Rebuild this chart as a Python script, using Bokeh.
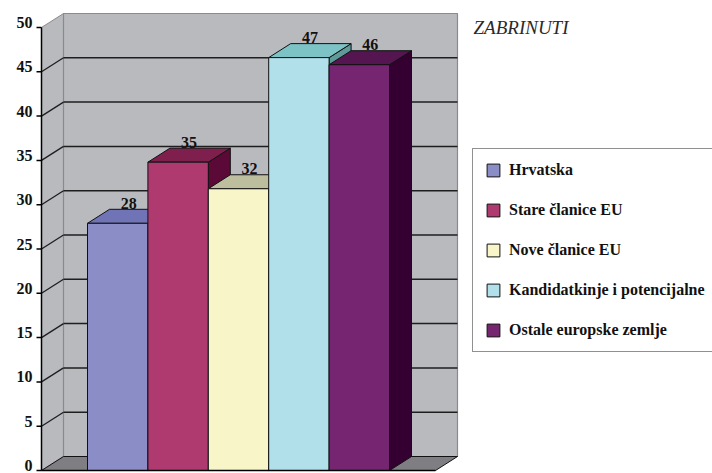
from bokeh.plotting import figure
from bokeh.models import Range1d, Legend, LegendItem, Label, ColumnDataSource
from bokeh.embed import file_html
from bokeh.resources import INLINE
from bokeh.core.properties import value

# ---------------- data ----------------
categories = ["Hrvatska", "Stare članice EU", "Nove članice EU",
              "Kandidatkinje i potencijalne", "Ostale europske zemlje"]
values = [27.9, 34.8, 31.8, 46.6, 45.8]
value_labels = ["28", "35", "32", "47", "46"]
y_ticks = [0, 5, 10, 15, 20, 25, 30, 35, 40, 45, 50]
y_tick_labels = ["0", "5", "10", "15", "20", "25", "30", "35", "40", "45", "50"]
title_text = "ZABRINUTI"

# ---------------- styles ----------------
front_colors = ["#8B8EC6", "#AE3A70", "#F8F5C8", "#B1E0EB", "#762570"]
top_colors = ["#7073B5", "#7E1F4E", "#BCBE9E", "#7DC3C6", "#551550"]
side_colors = ["#4E508A", "#5B0A37", "#8E8F6E", "#5F9A99", "#330031"]
WALL = "#B9BABE"
FLOOR = "#7F7F83"
EDGE = "#111111"

# ---------------- layout constants ----------------
W_PX, H_PX = 712, 473
AXIS_PX = 41         # canvas x of the value axis
PX_X = 60.4          # px per bar unit
ZERO_PX = 470        # canvas y of value 0
PX_Y = (ZERO_PX - 27) / 50.0   # px per value unit
DX = 22 / PX_X       # depth offset (x units)
DY = 14 / PX_Y       # depth offset (value units)
X0 = 46 / PX_X       # first bar left edge
FLOOR_W = 394 / PX_X
TICK = 5 / PX_X
TOP = y_ticks[-1]

p = figure(width=W_PX, height=H_PX, output_backend="svg", toolbar_location=None,
           x_axis_location=None, y_axis_location=None,
           x_range=Range1d(-AXIS_PX / PX_X, (W_PX - AXIS_PX) / PX_X),
           y_range=Range1d(-(H_PX - ZERO_PX) / PX_Y, ZERO_PX / PX_Y),
           min_border_left=0, min_border_right=0, min_border_top=0, min_border_bottom=0)
p.outline_line_color = None
p.xgrid.visible = False
p.ygrid.visible = False
p.background_fill_color = "white"
p.border_fill_color = "white"

# walls and floor
p.patch([0, 0, DX, DX], [0, TOP, TOP + DY, DY], fill_color=WALL, line_color="#8A8A8A", line_width=1)
p.patch([DX, DX, FLOOR_W + DX, FLOOR_W + DX], [DY, TOP + DY, TOP + DY, DY],
        fill_color=WALL, line_color="#8A8A8A", line_width=1.2)
p.patch([0, FLOOR_W, FLOOR_W + DX, DX], [0, 0, DY, DY], fill_color=FLOOR, line_color=EDGE, line_width=1)

# gridlines on back wall and side wall
gv = [t for t in y_ticks if 0 < t < TOP]
p.segment(x0=[DX] * len(gv), y0=[t + DY for t in gv], x1=[FLOOR_W + DX] * len(gv),
          y1=[t + DY for t in gv], line_color="#1E1E1E", line_width=1.5)
p.segment(x0=[0] * len(gv), y0=gv, x1=[DX] * len(gv), y1=[t + DY for t in gv],
          line_color="#1E1E1E", line_width=1.3)

# 3-D bars
lefts = [X0 + i for i in range(len(values))]
rights = [l + 1 for l in lefts]
side_xs = [[r, r, r + DX, r + DX] for r in rights]
side_ys = [[0, v, v + DY, DY] for v in values]
top_xs = [[l, r, r + DX, l + DX] for l, r in zip(lefts, rights)]
top_ys = [[v, v, v + DY, v + DY] for v in values]

p.patches(side_xs, side_ys, fill_color=side_colors, line_color=EDGE, line_width=1)
p.patches(top_xs, top_ys, fill_color=top_colors, line_color=EDGE, line_width=1)
src = ColumnDataSource(dict(left=lefts, right=rights, top=values, bottom=[0] * len(values),
                            color=front_colors, cat=categories))
fronts = p.quad(left="left", right="right", top="top", bottom="bottom", source=src,
                fill_color="color", line_color=EDGE, line_width=1)

# front baseline
p.segment(x0=[0], y0=[0], x1=[FLOOR_W], y1=[0], line_color="black", line_width=1.5)

# value labels (sitting on the back edge of each bar's top)
p.text(x=[l + 0.5 + DX / 2 for l in lefts], y=[v + DY for v in values], text=value_labels,
       text_align="center", text_baseline="middle", y_offset=-6,
       text_font=value("Liberation Serif"), text_font_style="bold",
       text_font_size="16px", text_color="#111111")

# value axis: line, ticks and labels (labels sit on top of their ticks)
p.segment(x0=[0], y0=[0], x1=[0], y1=[TOP], line_color="black", line_width=1.5)
p.segment(x0=[-TICK] * len(y_ticks), y0=y_ticks, x1=[0] * len(y_ticks), y1=y_ticks,
          line_color="black", line_width=1.5)
p.text(x=[0] * len(y_ticks), y=y_ticks, text=y_tick_labels, x_offset=-9, y_offset=-5,
       text_align="right", text_baseline="middle",
       text_font=value("Liberation Serif"), text_font_style="bold",
       text_font_size="16px", text_color="#111111")

# title
p.add_layout(Label(x=432 / PX_X, y=(ZERO_PX - 27) / PX_Y, text=title_text,
                   text_font="Liberation Sans Narrow", text_font_style="italic",
                   text_font_size="19px", text_color="#2A2A2A", text_baseline="middle"))

# legend
items = [LegendItem(label=c, renderers=[fronts], index=i) for i, c in enumerate(categories)]
legend = Legend(items=items, location=(472, H_PX - 352), orientation="vertical",
                glyph_width=16, glyph_height=16, label_height=16, spacing=22,
                padding=12, margin=0, label_standoff=8,
                label_text_font="Liberation Serif", label_text_font_style="bold",
                label_text_font_size="16px", label_text_color="#111111",
                border_line_color="#222222", border_line_width=1.2,
                background_fill_color="white", background_fill_alpha=1.0)
p.add_layout(legend, "center")

with open("out.html", "w") as f:
    f.write(file_html(p, INLINE))
